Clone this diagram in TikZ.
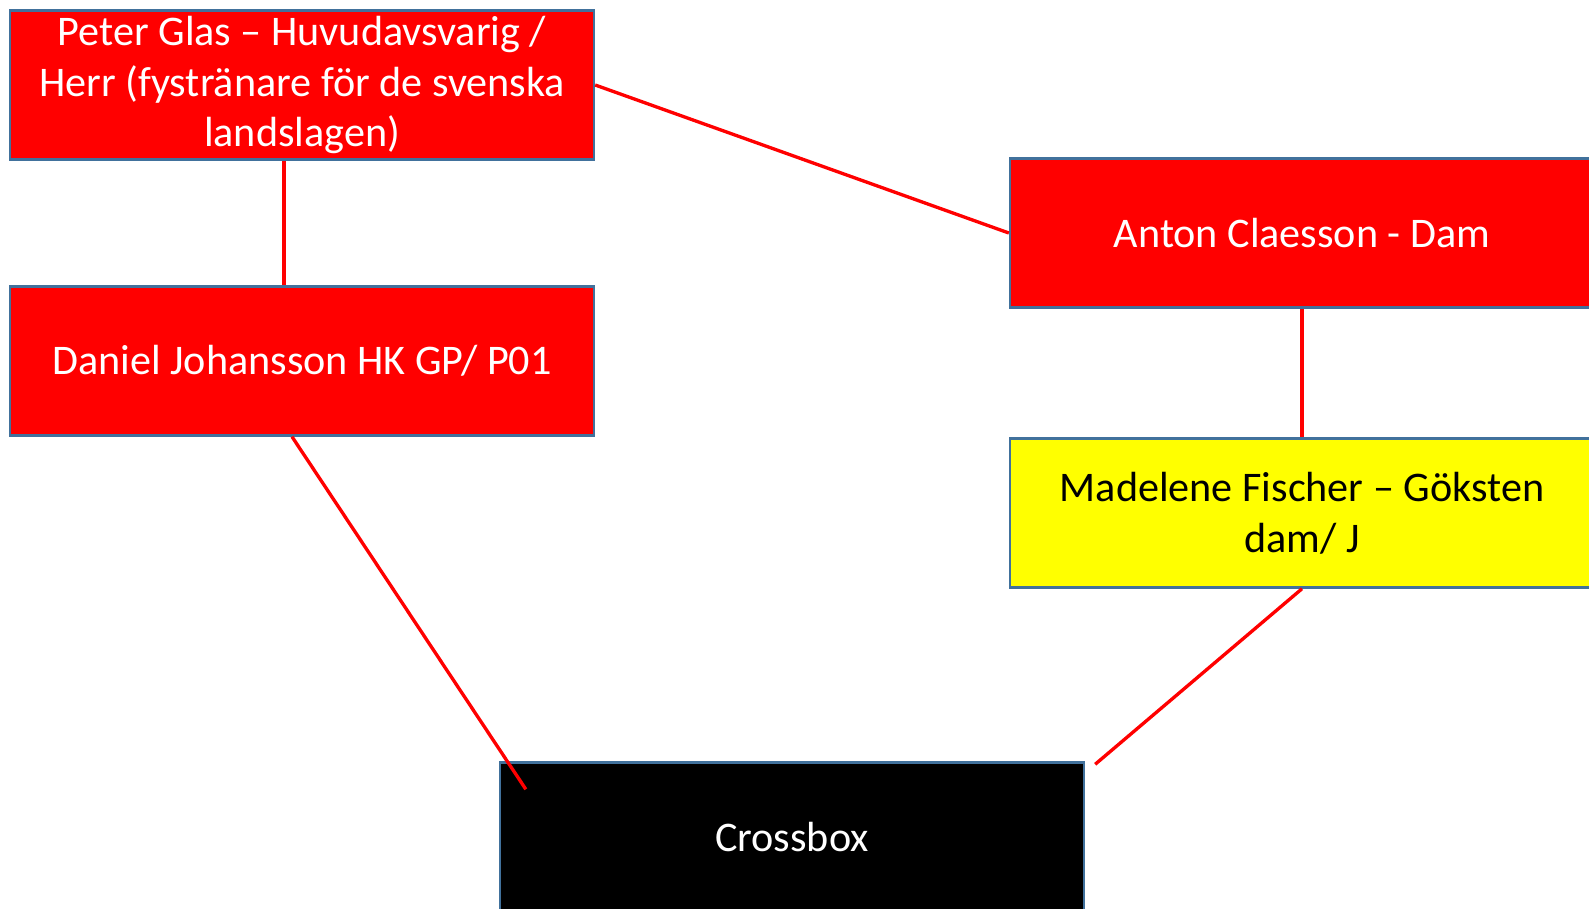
\documentclass[tikz,border=0pt]{standalone}
\usepackage{fontspec}
\setmainfont{Carlito}
\definecolor{boxedge}{HTML}{41719C}
\definecolor{boxred}{HTML}{FF0000}
\definecolor{boxyellow}{HTML}{FFFF00}
\tikzset{
  person/.style={draw=boxedge, line width=1.4pt, minimum width=11.68cm, minimum height=2.98cm,
    inner sep=2pt, align=center, font=\fontsize{24}{29}\selectfont},
  redbox/.style={person, fill=boxred, text=white},
  link/.style={draw=boxred, line width=1.9pt}
}
\begin{document}
\begin{tikzpicture}[x=0.02cm, y=-0.02cm]
    \useasboundingbox (0,0) rectangle (1589,909);
    \node[redbox] (peter) at (302,85) {Peter Glas -- Huvudavsvarig /\\Herr (fystränare för de svenska\\landslagen)};
    \node[redbox] (daniel) at (302,361) {Daniel Johansson HK GP/ P01};
    \node[redbox] (anton) at (1302,233) {Anton Claesson - Dam};
    \node[person, fill=boxyellow, text=black] (madelene) at (1302,513) {Madelene Fischer -- Göksten\\dam/ J};
    \node[person, fill=black, text=white] (crossbox) at (792,837) {Crossbox};
    \draw[link] ([xshift=-0.36cm]peter.south) -- ([xshift=-0.36cm]daniel.north);
    \draw[link] (peter.east) -- (anton.west);
    \draw[link] (anton.south) -- (madelene.north);
    \draw[link] ([xshift=-0.2cm]daniel.south) -- ([xshift=0.54cm,yshift=-0.56cm]crossbox.north west);
    \coordinate (crossend) at ([xshift=0.2cm,yshift=-0.06cm]crossbox.north east);
    \draw[link] (madelene.south) -- (crossend);
\end{tikzpicture}
\end{document}
